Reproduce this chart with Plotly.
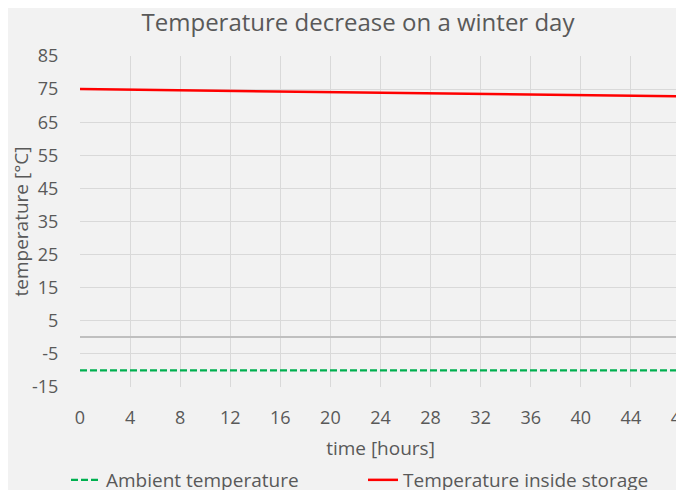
import plotly.graph_objects as go

hours = [0, 4, 8, 12, 16, 20, 24, 28, 32, 36, 40, 44, 48]
ambient = [-10, -10, -10, -10, -10, -10, -10, -10, -10, -10, -10, -10, -10]
storage = [75.0, 74.82, 74.63, 74.45, 74.27, 74.08, 73.9, 73.72, 73.54, 73.36, 73.18, 73.0, 72.82]
y_ticks = [-15, -5, 5, 15, 25, 35, 45, 55, 65, 75, 85]
y_tick_labels = ["-15", "-5", "5", "15", "25", "35", "45", "55", "65", "75", "85"]
x_ticks = hours

FONT = "Open Sans, Noto Sans, sans-serif"
TXT = "#595959"

# the page body has an 8px margin, so the figure is sized to end at the window edge
W, H = 676, 482

fig = go.Figure()
fig.add_trace(go.Scatter(x=hours, y=ambient, mode="lines", name="Ambient temperature",
                         line=dict(color="#00b050", width=2.2, dash="7px,3px")))
fig.add_trace(go.Scatter(x=hours, y=storage, mode="lines", name="Temperature inside storage",
                         line=dict(color="#ff0000", width=2.5)))

fig.update_layout(
    width=W, height=H,
    paper_bgcolor="#f2f2f2", plot_bgcolor="#f2f2f2",
    margin=dict(l=72, r=3, t=48, b=103, autoexpand=False),
    font=dict(family=FONT, color=TXT, size=18),
    title=dict(text="Temperature decrease on a winter day", x=350 / W, xanchor="center",
               y=1 - 15 / H, yanchor="middle", font=dict(size=24, color=TXT)),
    showlegend=True,
    legend=dict(orientation="h", xref="container", x=58 / W, xanchor="left",
                yref="container", y=10 / H, yanchor="middle", font=dict(size=19, color=TXT),
                bgcolor="rgba(0,0,0,0)", entrywidth=252, tracegroupgap=0),
)
fig.update_xaxes(range=[0, 48.001], tickvals=x_ticks, showgrid=True, gridcolor="#d9d9d9", gridwidth=1,
                 zeroline=False, showline=False, ticks="outside", ticklen=14,
                 tickcolor="rgba(0,0,0,0)", tickfont=dict(size=18), automargin=False,
                 ticklabeloverflow="allow",
                 title=dict(text="time [hours]", font=dict(size=19), standoff=22))
fig.update_yaxes(range=[-15, 85], tickvals=y_ticks, ticktext=y_tick_labels, showgrid=True,
                 gridcolor="#d9d9d9", gridwidth=1,
                 zeroline=True, zerolinecolor="#bfbfbf", zerolinewidth=1.5, automargin=False,
                 showline=False, ticks="outside", ticklen=17, tickcolor="rgba(0,0,0,0)",
                 tickfont=dict(size=18),
                 title=dict(text="temperature [°C]", font=dict(size=19), standoff=9))

fig.write_html("out.html")
